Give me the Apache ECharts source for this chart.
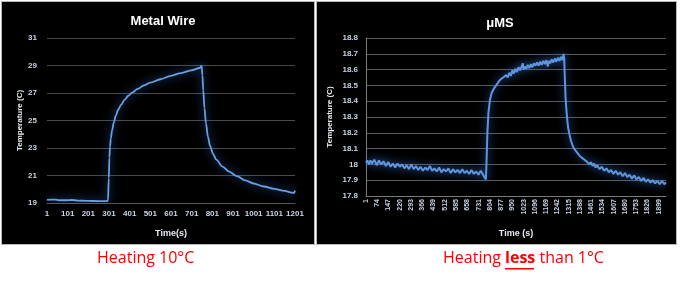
<!DOCTYPE html>
<html>
<head>
<meta charset="utf-8">
<script src="https://cdn.jsdelivr.net/npm/echarts@6/dist/echarts.min.js"></script>
<style>
  html, body { margin: 0; padding: 0; background: #fff; }
  #chart { width: 680px; height: 283px; }
</style>
</head>
<body>
<div id="chart"></div>
<script>
// metal wire: time (s) vs temperature
var wireTime = [1, 20, 40, 60, 100, 120, 150, 200, 250, 290, 296, 300, 303, 306, 310, 316, 324, 334, 346, 360,
  376, 395, 415, 440, 470, 500, 550, 600, 650, 700, 740, 749, 753, 757, 763, 770, 780, 790, 805, 820,
  850, 880, 920, 960, 1000, 1050, 1100, 1150, 1190, 1196, 1201];
var wireTemp = [19.22, 19.25, 19.24, 19.2, 19.2, 19.22, 19.18, 19.15, 19.14, 19.13, 19.15, 20.8, 22.3, 23.1, 23.7, 24.3, 24.85, 25.35, 25.8, 26.15,
  26.5, 26.8, 27.05, 27.3, 27.55, 27.75, 28.0, 28.25, 28.45, 28.65, 28.82, 28.97, 28.3, 27.2, 25.9, 24.8, 23.8, 23.15, 22.55, 22.15,
  21.65, 21.3, 20.95, 20.65, 20.42, 20.2, 20.03, 19.88, 19.75, 19.72, 19.9];

// uMS: time (s) vs temperature
var umsTime = [1, 10, 20, 30, 40, 55, 70, 85, 100, 115, 130, 145, 160, 175, 190, 205, 220, 235, 250, 265,
  280, 295, 310, 325, 340, 355, 370, 385, 400, 415, 430, 445, 460, 475, 490, 505, 520, 535, 550, 565,
  580, 595, 610, 625, 640, 655, 670, 685, 700, 715, 730, 745, 760, 772, 778, 782, 788, 795, 805, 815,
  830, 845, 862, 875, 890, 900, 910, 920, 930, 940, 950, 960, 970, 980, 990, 1000, 1010, 1018, 1022, 1030,
  1040, 1050, 1060, 1070, 1080, 1090, 1100, 1110, 1120, 1130, 1140, 1150, 1160, 1170, 1180, 1186, 1195, 1205, 1215, 1225,
  1235, 1245, 1255, 1265, 1275, 1282, 1286, 1290, 1295, 1300, 1306, 1312, 1320, 1330, 1340, 1350, 1360, 1370, 1380, 1390,
  1400, 1410, 1420, 1430, 1440, 1450, 1460, 1470, 1480, 1490, 1500, 1515, 1530, 1545, 1560, 1575, 1590, 1605, 1620, 1635,
  1650, 1665, 1680, 1695, 1710, 1725, 1740, 1755, 1770, 1785, 1800, 1815, 1830, 1845, 1860, 1875, 1890, 1905, 1920, 1935, 1946];
var umsTemp = [18.01, 18.025, 18.0, 18.025, 18.005, 18.03, 17.995, 18.025, 18.0, 18.02, 17.99, 18.015, 17.985, 18.005, 17.98, 18.005, 17.985, 18.0, 17.975, 17.995,
  17.97, 18.0, 17.97, 17.99, 17.965, 17.985, 17.96, 17.98, 17.965, 17.99, 17.96, 17.975, 17.955, 17.98, 17.95, 17.97, 17.955, 17.975, 17.945, 17.97,
  17.95, 17.965, 17.945, 17.97, 17.945, 17.96, 17.94, 17.965, 17.94, 17.955, 17.935, 17.96, 17.935, 17.945, 17.905, 18.0, 18.2, 18.33, 18.41, 18.45,
  18.48, 18.5, 18.525, 18.54, 18.55, 18.54, 18.565, 18.55, 18.58, 18.56, 18.595, 18.575, 18.605, 18.585, 18.615, 18.595, 18.6, 18.64, 18.6, 18.62,
  18.605, 18.63, 18.61, 18.635, 18.615, 18.64, 18.625, 18.645, 18.625, 18.65, 18.63, 18.655, 18.635, 18.66, 18.62, 18.655, 18.64, 18.665, 18.645, 18.67,
  18.65, 18.675, 18.655, 18.68, 18.66, 18.7, 18.67, 18.55, 18.42, 18.35, 18.28, 18.23, 18.19, 18.15, 18.12, 18.1, 18.09, 18.075, 18.065, 18.05,
  18.045, 18.035, 18.03, 18.02, 18.025, 18.0, 18.015, 17.99, 18.005, 17.98, 17.995, 17.97, 17.985, 17.96, 17.975, 17.95, 17.965, 17.94, 17.96, 17.935,
  17.95, 17.925, 17.945, 17.92, 17.935, 17.91, 17.93, 17.905, 17.92, 17.895, 17.915, 17.89, 17.905, 17.885, 17.9, 17.88, 17.895, 17.875, 17.895, 17.875, 17.885];

function pairs(xs, ys) {
  var out = [];
  for (var i = 0; i < xs.length; i++) {
    out.push([xs[i], ys[i]]);
  }
  return out;
}

var labelColor = '#c9d3e3';
var labelFont = 'Liberation Sans';
var plain = function (v) { return String(v); };

var chart = echarts.init(document.getElementById('chart'));

var option = {
  backgroundColor: '#ffffff',
  animation: false,
  title: [{
    text: 'Metal Wire',
    left: 158, top: 10, textAlign: 'center',
    textStyle: { color: '#ffffff', fontSize: 13, fontWeight: 'bold', fontFamily: labelFont }
  }, {
    text: 'μMS',
    left: 495, top: 12, textAlign: 'center',
    textStyle: { color: '#ffffff', fontSize: 13, fontWeight: 'bold', fontFamily: labelFont }
  }],
  graphic: [
    { type: 'rect', z: -10, shape: { x: 1.5, y: 1.5, width: 313, height: 243 },
      style: { fill: '#000000', stroke: '#b8b8b8', lineWidth: 1 } },
    { type: 'rect', z: -10, shape: { x: 316.5, y: 1.5, width: 360, height: 243 },
      style: { fill: '#000000', stroke: '#b8b8b8', lineWidth: 1 } },
    { type: 'text', left: 97, top: 250,
      style: { text: 'Heating 10°C', fill: '#ff0000', fontSize: 16, fontFamily: 'Open Sans' } },
    { type: 'text', left: 443, top: 250,
      style: {
        text: 'Heating {b|less} than 1°C', fill: '#ff0000', fontSize: 16, fontFamily: 'Open Sans',
        rich: { b: { fontWeight: 'bold', fontSize: 16, fill: '#ff0000', fontFamily: 'Open Sans' } }
      } },
    { type: 'rect', shape: { x: 505, y: 268, width: 29, height: 1.5 }, style: { fill: '#ff0000' } }
  ],
  grid: [
    { left: 47, right: 385, top: 38, bottom: 80 },
    { left: 366, right: 14, top: 38, bottom: 87 }
  ],
  xAxis: [{
    gridIndex: 0, type: 'value', min: 1, max: 1201, interval: 100,
    name: 'Time(s)', nameLocation: 'middle', nameGap: 26,
    nameTextStyle: { color: '#e8ecf2', fontSize: 9, fontWeight: 'bold', fontFamily: labelFont },
    axisLine: { show: true, lineStyle: { color: '#555555' } },
    axisTick: { show: false },
    splitLine: { show: false },
    axisLabel: { color: labelColor, fontSize: 8, fontWeight: 'bold', fontFamily: labelFont, margin: 7, formatter: plain }
  }, {
    gridIndex: 1, type: 'value', min: 1, max: 1946, interval: 73,
    name: 'Time (s)', nameLocation: 'middle', nameGap: 33,
    nameTextStyle: { color: '#e8ecf2', fontSize: 9, fontWeight: 'bold', fontFamily: labelFont },
    axisLine: { show: true, lineStyle: { color: '#7a7a7a' } },
    axisTick: { show: false },
    splitLine: { show: false },
    axisLabel: { color: labelColor, fontSize: 7, fontWeight: 'bold', fontFamily: labelFont, rotate: 90, margin: 3, showMaxLabel: false, formatter: plain }
  }],
  yAxis: [{
    gridIndex: 0, type: 'value', min: 19, max: 31, interval: 2,
    name: 'Temperature (C)', nameLocation: 'middle', nameGap: 23, nameRotate: 90,
    nameTextStyle: { color: '#e8ecf2', fontSize: 8, fontWeight: 'bold', fontFamily: labelFont },
    axisLine: { show: false },
    axisTick: { show: false },
    splitLine: { lineStyle: { color: '#4a4a4a', width: 1 } },
    axisLabel: { color: labelColor, fontSize: 8, fontWeight: 'bold', fontFamily: labelFont, margin: 10 }
  }, {
    gridIndex: 1, type: 'value', min: 17.8, max: 18.8, interval: 0.1,
    name: 'Temperature (C)', nameLocation: 'middle', nameGap: 32, nameRotate: 90,
    nameTextStyle: { color: '#e8ecf2', fontSize: 8, fontWeight: 'bold', fontFamily: labelFont },
    axisLine: { show: true, lineStyle: { color: '#7a7a7a' } },
    axisTick: { show: false },
    splitLine: { lineStyle: { color: '#5a5a5a', width: 1 } },
    axisLabel: { color: labelColor, fontSize: 8, fontWeight: 'bold', fontFamily: labelFont, margin: 8 }
  }],
  series: [{
    type: 'line', xAxisIndex: 0, yAxisIndex: 0,
    data: pairs(wireTime, wireTemp),
    showSymbol: false, smooth: 0.3, smoothMonotone: 'x',
    lineStyle: { color: '#6a9fe0', width: 1.8, shadowBlur: 9, shadowColor: 'rgba(60,120,220,0.9)' }
  }, {
    type: 'line', xAxisIndex: 1, yAxisIndex: 1,
    data: pairs(umsTime, umsTemp),
    showSymbol: false,
    lineStyle: { color: '#5f95dc', width: 2, shadowBlur: 9, shadowColor: 'rgba(60,120,220,0.9)' }
  }]
};

chart.setOption(option);
</script>
</body>
</html>
